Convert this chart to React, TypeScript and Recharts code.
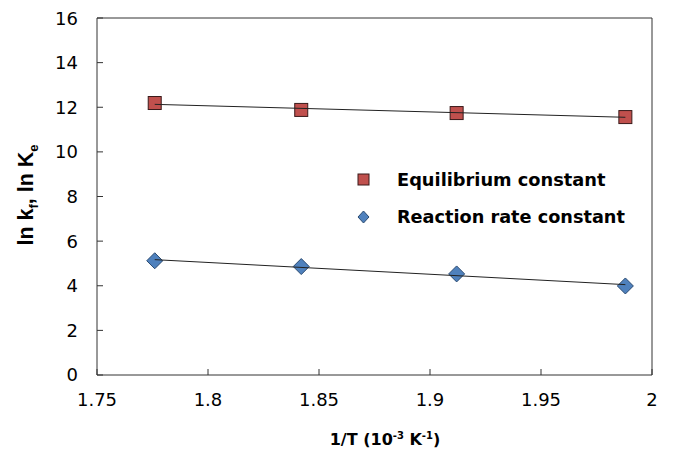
import React from 'react';
import { ComposedChart, Scatter, XAxis, YAxis, ReferenceLine } from 'recharts';

const INV_T = [1.776, 1.842, 1.912, 1.988];
const LN_KE = [12.19, 11.88, 11.74, 11.56];
const LN_KF = [5.12, 4.86, 4.53, 3.99];

// trend line ends
const FIT_X = [1.776, 1.988];
const FIT_KE = [12.13, 11.55];
const FIT_KF = [5.17, 4.05];

const X_TICKS = [1.75, 1.8, 1.85, 1.9, 1.95, 2];
const Y_TICKS = [0, 2, 4, 6, 8, 10, 12, 14, 16];

const keData = INV_T.map((x, i) => ({ x, y: LN_KE[i] }));
const kfData = INV_T.map((x, i) => ({ x, y: LN_KF[i] }));
const keFit = FIT_X.map((x, i) => ({ x, y: FIT_KE[i] }));
const kfFit = FIT_X.map((x, i) => ({ x, y: FIT_KF[i] }));

const FONT = '"DejaVu Sans", Arial, sans-serif';
const NARROW = '"Liberation Sans", Arial, sans-serif';
const RED = '#C0504D';
const BLUE = '#4F81BD';

const Square = (p: any) => (
  <rect x={p.cx - 6.5} y={p.cy - 6.5} width={13} height={13} fill={RED} stroke="#3a1a1a" strokeWidth={1} />
);
const Diamond = (p: any) => (
  <polygon points={`${p.cx},${p.cy - 8} ${p.cx + 8},${p.cy} ${p.cx},${p.cy + 8} ${p.cx - 8},${p.cy}`}
    fill={BLUE} stroke="#2a4a70" strokeWidth={1} />
);
const NoDot = () => <g />;

export default function App() {
  return (
    <div style={{ position: 'relative', width: 666, height: 441 }}>
      <ComposedChart width={666} height={441} margin={{ top: 10, right: 22, bottom: 0, left: 0 }}>
        <XAxis type="number" dataKey="x" domain={[1.75, 2]} ticks={X_TICKS} allowDataOverflow
          stroke="#333" tickSize={-6} tickMargin={24} height={74}
          tick={{ fill: '#000', fontSize: 18, fontFamily: FONT }} />
        <YAxis type="number" dataKey="y" domain={[0, 16]} ticks={Y_TICKS} allowDataOverflow
          stroke="#333" tickSize={-6} tickMargin={25} width={89}
          tick={{ fill: '#000', fontSize: 18, fontFamily: FONT }} />
        <ReferenceLine y={16} stroke="#333" />
        <ReferenceLine x={2} stroke="#333" />
        <Scatter data={keData} shape={Square} isAnimationActive={false} />
        <Scatter data={kfData} shape={Diamond} isAnimationActive={false} />
        <Scatter data={keFit} shape={NoDot} line={{ stroke: '#222', strokeWidth: 1 }} isAnimationActive={false} />
        <Scatter data={kfFit} shape={NoDot} line={{ stroke: '#222', strokeWidth: 1 }} isAnimationActive={false} />
      </ComposedChart>
      <div style={{ position: 'absolute', left: 0, top: 0, width: 666, height: 441, pointerEvents: 'none' }}>
        <svg width={666} height={441}>
          <rect x={350} y={166} width={11} height={11} fill={RED} stroke="#3a1a1a" />
          <polygon points="355.5,203 361,209 355.5,215 350,209" fill={BLUE} stroke="#2a4a70" />
          <text x={389} y={178} fontFamily={FONT} fontWeight="bold" fontSize={17.8} fill="#000">Equilibrium constant</text>
          <text x={389} y={215} fontFamily={FONT} fontWeight="bold" fontSize={17.7} fill="#000">Reaction rate constant</text>
          <text x={377} y={437} textAnchor="middle" fontFamily={FONT} fontWeight="bold" fontSize={16} fill="#000">
            1/T (10<tspan dy={-6} fontSize={10}>-3</tspan><tspan dy={6}> K</tspan><tspan dy={-6} fontSize={10}>-1</tspan><tspan dy={6}>)</tspan>
          </text>
          <text transform="translate(25,187) rotate(-90)" textAnchor="middle" fontFamily={NARROW} fontWeight="bold" fontSize={21.5} fill="#000">
            ln k<tspan dy={5} fontSize={13}>f</tspan><tspan dy={-5}>, ln K</tspan><tspan dy={5} fontSize={13}>e</tspan>
          </text>
        </svg>
      </div>
    </div>
  );
}
